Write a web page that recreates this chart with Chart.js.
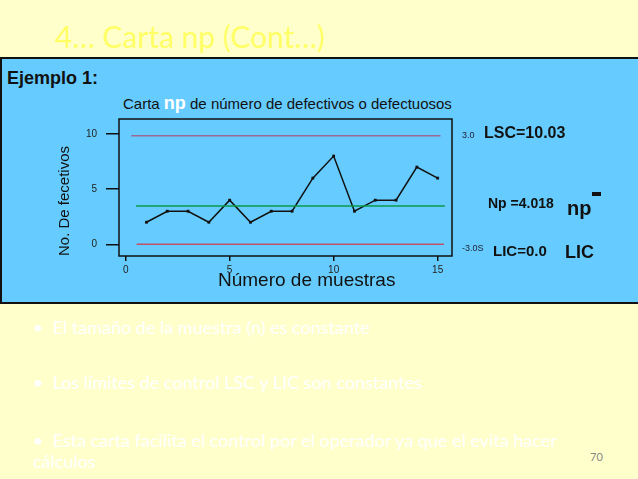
<!DOCTYPE html>
<html>
<head>
<meta charset="utf-8">
<script src="https://cdn.jsdelivr.net/npm/chart.js@4.4.0/dist/chart.umd.min.js"></script>
<style>
  html, body { margin: 0; padding: 0; }
  body { width: 638px; height: 479px; background: #FFFFCC; position: relative; overflow: hidden;
         font-family: "Liberation Sans", Arial, sans-serif; }
  .abs { position: absolute; white-space: nowrap; line-height: 1; }
  #slideTitle { left: 55px; top: 21px; font-family: Lato, sans-serif; font-size: 30px; color: #FFFF66; }
  #panel { position: absolute; left: 0; top: 57px; width: 642px; height: 247px; box-sizing: border-box;
           background: #66CCFF; border: 2px solid #111; }
  #chartWrap { position: absolute; left: 40px; top: 110px; width: 430px; height: 190px; }
  .bullet { font-family: Lato, sans-serif; font-size: 18px; color: #FFFFFF; }
</style>
</head>
<body>
<div id="slideTitle" class="abs">4… Carta np (Cont…)</div>
<div id="panel"></div>

<div class="abs" style="left:7px; top:69px; font-size:18px; font-weight:bold; color:#111;">Ejemplo 1:</div>
<div class="abs" style="left:123px; top:96px; font-size:15px; color:#111;">Carta <span style="font-size:18px; line-height:0; font-weight:bold; color:#fff;">np</span> de número de defectivos o defectuosos</div>

<div id="chartWrap"><canvas id="npChart"></canvas></div>

<div class="abs" style="left:218px; top:270px; font-size:19px; color:#111;">Número de muestras</div>

<div class="abs" style="left:462px; top:131px; font-size:9px; color:#223;">3.0</div>
<div class="abs" style="left:484px; top:125px; font-size:16px; font-weight:bold; color:#111;">LSC=10.03</div>
<div class="abs" style="left:488px; top:196px; font-size:14px; font-weight:bold; color:#111;">Np  =4.018</div>
<div class="abs" style="left:567px; top:198px; font-size:20px; font-weight:bold; color:#111;">np</div>
<div class="abs" style="left:592px; top:192px; width:9px; height:4px; background:#111;"></div>
<div class="abs" style="left:462px; top:244px; font-size:9px; color:#223;">-3.0S</div>
<div class="abs" style="left:493px; top:243px; font-size:15px; font-weight:bold; color:#111;">LIC=0.0</div>
<div class="abs" style="left:565px; top:243px; font-size:18px; font-weight:bold; color:#111;">LIC</div>

<div class="abs bullet" style="left:33px; top:318px;">•&nbsp; El tamaño de la muestra (n) es constante</div>
<div class="abs bullet" style="left:33px; top:373px;">•&nbsp; Los límites de control LSC y LIC son constantes</div>
<div class="abs bullet" style="left:33px; top:431px;">•&nbsp; Esta carta facilita el control por el operador ya que el evita hacer</div>
<div class="abs bullet" style="left:33px; top:452px;">cálculos</div>
<div class="abs" style="left:590px; top:451px; font-family:Lato, sans-serif; font-size:11px; color:#888;">70</div>

<script>
// muestras y numero de defectuosos
const samples = [1, 2, 3, 4, 5, 6, 7, 8, 9, 10, 11, 12, 13, 14, 15];
const defects = [2, 3, 3, 2, 4, 2, 3, 3, 6, 8, 3, 4, 4, 7, 6];

// limites como se ven dibujados
const lscX = [0.27, 15.14];
const lscY = [9.85, 9.85];
const centerX = [0.5, 15.35];
const centerY = [3.47, 3.47];
const licX = [0.53, 15.3];
const licY = [0, 0];

const xTicks = [0, 5, 10, 15];
const yTicks = [0, 5, 10];

const toPoints = (xs, ys) => xs.map((x, i) => ({ x: x, y: ys[i] }));

const frame = {
  id: "frame",
  afterDraw(chart) {
    const { ctx, chartArea } = chart;
    ctx.save();
    ctx.strokeStyle = "#111";
    ctx.lineWidth = 1.5;
    ctx.strokeRect(chartArea.left, chartArea.top, chartArea.right - chartArea.left, chartArea.bottom - chartArea.top);
    ctx.restore();
  },
};

const limitLine = (xs, ys, color) => ({
  data: toPoints(xs, ys),
  showLine: true,
  borderColor: color,
  borderWidth: 1.5,
  pointRadius: 0,
});

new Chart(document.getElementById("npChart"), {
  type: "scatter",
  data: {
    datasets: [
      limitLine(lscX, lscY, "#9A6A92"),
      limitLine(centerX, centerY, "#0A9A4A"),
      limitLine(licX, licY, "#C0506A"),
      {
        data: toPoints(samples, defects),
        showLine: true,
        borderColor: "#111",
        borderWidth: 1.5,
        backgroundColor: "#111",
        pointStyle: "rect",
        pointRadius: 2,
        pointBorderWidth: 0,
      },
    ],
  },
  options: {
    responsive: true,
    maintainAspectRatio: false,
    animation: false,
    events: [],
    layout: { padding: { left: 0, top: 9, right: 18, bottom: 24 } },
    plugins: { legend: { display: false }, tooltip: { enabled: false } },
    scales: {
      x: {
        type: "linear",
        min: -0.32,
        max: 15.69,
        afterFit(scale) {
          scale.height = 20;
          scale.paddingLeft = 0;
          scale.paddingRight = 0;
        },
        afterBuildTicks(scale) { scale.ticks = xTicks.map(v => ({ value: v })); },
        border: { display: false },
        grid: { drawOnChartArea: false, drawTicks: true, tickLength: 5, color: "#111", lineWidth: 1.5 },
        ticks: { padding: 3, color: "#222", font: { family: "Liberation Sans", size: 10 } },
      },
      y: {
        type: "linear",
        min: -1.06,
        max: 11.36,
        afterFit(scale) {
          scale.width = 79;
          scale.paddingTop = 0;
          scale.paddingBottom = 0;
        },
        afterBuildTicks(scale) { scale.ticks = yTicks.map(v => ({ value: v })); },
        border: { display: false },
        grid: { drawOnChartArea: false, drawTicks: true, tickLength: 13, color: "#111", lineWidth: 1.5 },
        ticks: { padding: 9, color: "#222", font: { family: "Liberation Sans", size: 10 } },
        title: {
          display: true,
          text: "No. De fecetivos",
          align: "start",
          color: "#111",
          font: { family: "Liberation Sans", size: 15 },
          padding: { top: 16, bottom: 0 },
        },
      },
    },
  },
  plugins: [frame],
});
</script>
</body>
</html>
